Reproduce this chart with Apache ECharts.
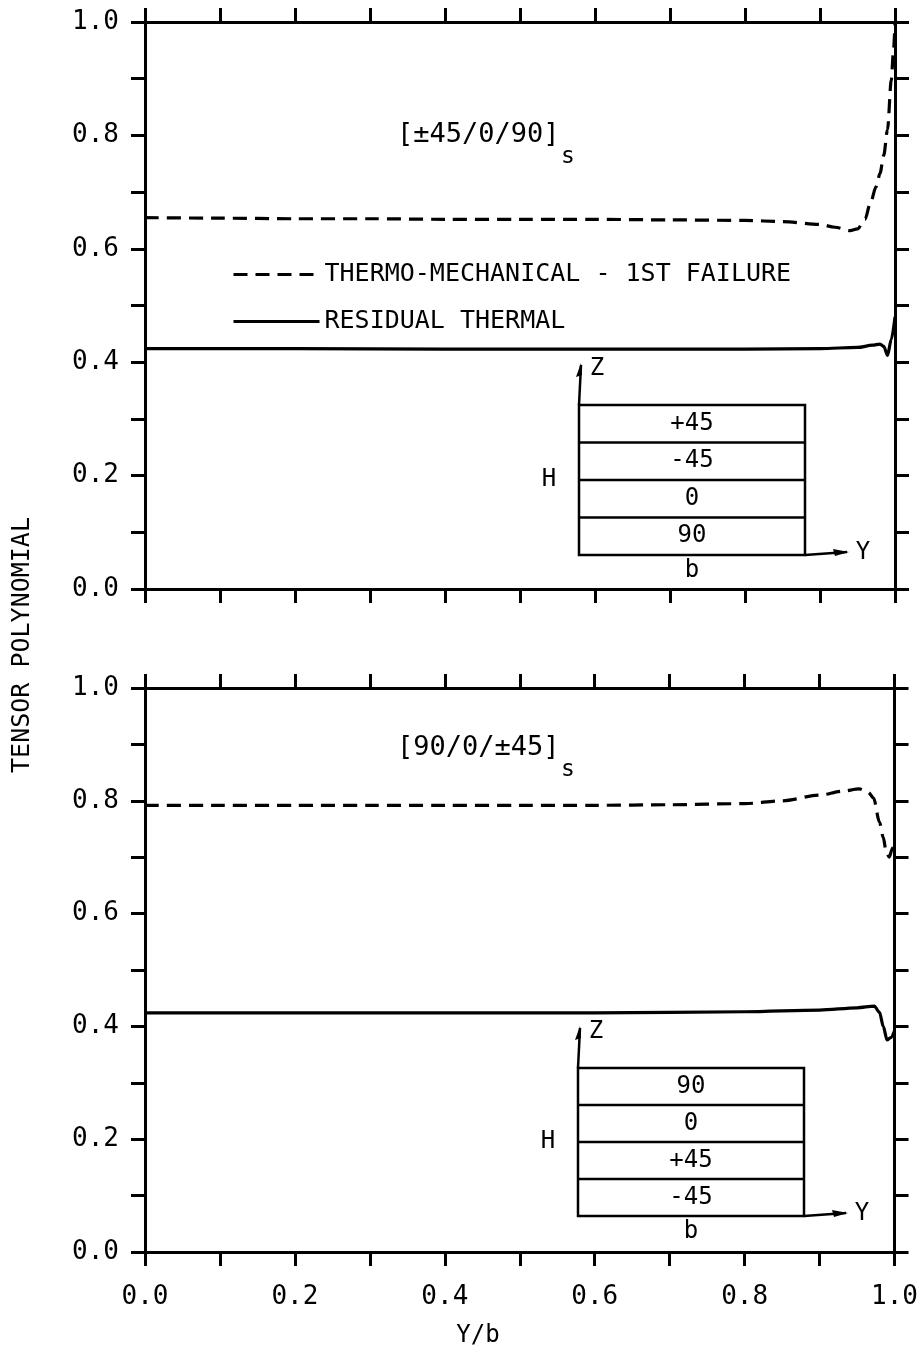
<!DOCTYPE html>
<html>
<head>
<meta charset="utf-8">
<script src="https://cdn.jsdelivr.net/npm/echarts@6/dist/echarts.min.js"></script>
<style>
    html, body { margin: 0; padding: 0; background: #fff; }
    #chart { width: 921px; height: 1361px; }
</style>
</head>
<body>
<div id="chart"></div>
<script>
    // upper panel [±45/0/90]s
    var xThermoTop = [0, 0.1, 0.2, 0.3, 0.4, 0.5, 0.6, 0.7, 0.8, 0.85, 0.9, 0.92, 0.94, 0.95, 0.96, 0.967, 0.975, 0.98, 0.985, 0.99, 0.995, 0.998, 1.0];
    var yThermoTop = [0.655, 0.654, 0.653, 0.653, 0.652, 0.652, 0.652, 0.651, 0.650, 0.648, 0.643, 0.638, 0.632, 0.635, 0.652, 0.68, 0.71, 0.733, 0.765, 0.81, 0.897, 0.95, 1.0];
    var xResidTop = [0, 0.2, 0.4, 0.6, 0.8, 0.9, 0.95, 0.97, 0.98, 0.985, 0.99, 0.995, 1.0];
    var yResidTop = [0.424, 0.424, 0.423, 0.423, 0.423, 0.424, 0.426, 0.430, 0.432, 0.428, 0.412, 0.44, 0.48];

    // lower panel [90/0/±45]s
    var xThermoBot = [0, 0.1, 0.2, 0.3, 0.4, 0.5, 0.6, 0.7, 0.8, 0.85, 0.9, 0.93, 0.953, 0.965, 0.972, 0.98, 0.985, 0.989, 0.993, 0.997, 1.0];
    var yThermoBot = [0.792, 0.792, 0.792, 0.792, 0.792, 0.792, 0.792, 0.793, 0.795, 0.800, 0.810, 0.817, 0.821, 0.815, 0.805, 0.762, 0.735, 0.708, 0.700, 0.715, 0.73];
    var xResidBot = [0, 0.2, 0.4, 0.6, 0.8, 0.9, 0.95, 0.973, 0.98, 0.985, 0.99, 0.995, 1.0];
    var yResidBot = [0.424, 0.424, 0.424, 0.424, 0.426, 0.429, 0.433, 0.436, 0.425, 0.40, 0.376, 0.38, 0.392];

    var names = ['THERMO-MECHANICAL - 1ST FAILURE', 'RESIDUAL THERMAL'];
    var layupTop = ['+45', '-45', '0', '90'];
    var layupBot = ['90', '0', '+45', '-45'];

    var mono = 'DejaVu Sans Mono';

    function pairs(xs, ys) {
        var out = [];
        for (var i = 0; i < xs.length; i++) {
            out.push([xs[i], ys[i]]);
        }
        return out;
    }

    function tickFmt(v) {
        return Math.round(v * 10) % 2 === 0 ? v.toFixed(1) : '';
    }

    function axis(grid, pos, labels) {
        return {
            type: 'value', gridIndex: grid, position: pos,
            min: 0, max: 1, interval: 0.1,
            axisLine: { show: true, onZero: false, lineStyle: { color: '#000', width: 3 } },
            axisTick: { show: true, inside: false, length: 14, lineStyle: { color: '#000', width: 3 } },
            splitLine: { show: false },
            axisLabel: {
                show: labels, formatter: tickFmt, color: '#000',
                fontFamily: mono, fontSize: 26,
                margin: (pos === 'bottom') ? 32 : 26
            }
        };
    }

    function line(name, grid, data, dashed) {
        return {
            name: name, type: 'line', xAxisIndex: grid, yAxisIndex: grid,
            data: data, symbol: 'none', smooth: 0.3, smoothMonotone: 'x',
            lineStyle: { color: '#000', width: 3.2, type: dashed ? [14, 8] : 'solid' },
            itemStyle: { color: '#000' },
            silent: true
        };
    }

    // ply-stack sketch
    function inset(left, top, w, h, plies) {
        var els = [];
        var rowH = h / plies.length;
        var f = '24px ' + mono;
        els.push({ type: 'rect', shape: { x: left, y: top, width: w, height: h },
            style: { fill: 'none', stroke: '#000', lineWidth: 2.5 } });
        for (var i = 1; i < plies.length; i++) {
            els.push({ type: 'line', shape: { x1: left, y1: top + i * rowH, x2: left + w, y2: top + i * rowH },
                style: { stroke: '#000', lineWidth: 2.5 } });
        }
        for (var j = 0; j < plies.length; j++) {
            els.push({ type: 'text', x: left + w / 2, y: top + (j + 0.5) * rowH,
                style: { text: plies[j], fill: '#000', font: f, align: 'center', verticalAlign: 'middle' } });
        }
        // Z arrow
        els.push({ type: 'line', shape: { x1: left, y1: top, x2: left + 2, y2: top - 40 },
            style: { stroke: '#000', lineWidth: 2.5 } });
        els.push({ type: 'polygon', shape: { points: [[left + 2, top - 42], [left - 3, top - 28], [left + 3, top - 30]] },
            style: { fill: '#000' } });
        els.push({ type: 'text', x: left + 18, y: top - 36,
            style: { text: 'Z', fill: '#000', font: f, align: 'center', verticalAlign: 'middle' } });
        // Y arrow
        els.push({ type: 'line', shape: { x1: left + w, y1: top + h, x2: left + w + 42, y2: top + h - 3 },
            style: { stroke: '#000', lineWidth: 2.5 } });
        els.push({ type: 'polygon', shape: { points: [[left + w + 44, top + h - 3], [left + w + 28, top + h - 6], [left + w + 30, top + h + 1]] },
            style: { fill: '#000' } });
        els.push({ type: 'text', x: left + w + 58, y: top + h - 2,
            style: { text: 'Y', fill: '#000', font: f, align: 'center', verticalAlign: 'middle' } });
        els.push({ type: 'text', x: left + w / 2, y: top + h + 16,
            style: { text: 'b', fill: '#000', font: f, align: 'center', verticalAlign: 'middle' } });
        els.push({ type: 'text', x: left - 30, y: top + h / 2,
            style: { text: 'H', fill: '#000', font: f, align: 'center', verticalAlign: 'middle' } });
        return els;
    }

    function layupLabel(x, y, txt) {
        return [
            { type: 'text', x: x, y: y, style: { text: txt, fill: '#000', font: '27px ' + mono, verticalAlign: 'middle' } },
            { type: 'text', x: x + 164, y: y + 22, style: { text: 's', fill: '#000', font: '23px ' + mono, verticalAlign: 'middle' } }
        ];
    }

    var graphics = []
        .concat(inset(579, 405, 226, 150, layupTop))
        .concat(inset(578, 1068, 226, 148, layupBot))
        .concat(layupLabel(397, 135, '[±45/0/90]'))
        .concat(layupLabel(397, 748, '[90/0/±45]'))
        .concat([
            { type: 'text', x: 22, y: 645, rotation: Math.PI / 2,
              style: { text: 'TENSOR POLYNOMIAL', fill: '#000', font: '25px ' + mono, align: 'center', verticalAlign: 'middle' } },
            { type: 'text', x: 478, y: 1336,
              style: { text: 'Y/b', fill: '#000', font: '24px ' + mono, align: 'center', verticalAlign: 'middle' } }
        ]);

    var chart = echarts.init(document.getElementById('chart'), null, { renderer: 'canvas' });
    chart.setOption({
        animation: false,
        backgroundColor: '#fff',
        grid: [
            { left: 145, top: 22, width: 750, height: 567 },
            { left: 145, top: 688, width: 750, height: 564 }
        ],
        xAxis: [
            axis(0, 'bottom', false),
            axis(1, 'bottom', true),
            axis(0, 'top', false),
            axis(1, 'top', false)
        ],
        yAxis: [
            axis(0, 'left', true),
            axis(1, 'left', true),
            axis(0, 'right', false),
            axis(1, 'right', false)
        ],
        legend: {
            data: names,
            orient: 'vertical',
            left: 232, top: 262,
            itemWidth: 86, itemHeight: 14, itemGap: 22,
            padding: 0,
            selectedMode: false,
            itemStyle: { opacity: 0 },
            lineStyle: { width: 3 },
            textStyle: { color: '#000', fontFamily: mono, fontSize: 25 }
        },
        series: [
            line(names[0], 0, pairs(xThermoTop, yThermoTop), true),
            line(names[1], 0, pairs(xResidTop, yResidTop), false),
            line(names[0], 1, pairs(xThermoBot, yThermoBot), true),
            line(names[1], 1, pairs(xResidBot, yResidBot), false)
        ],
        graphic: graphics
    });
</script>
</body>
</html>
